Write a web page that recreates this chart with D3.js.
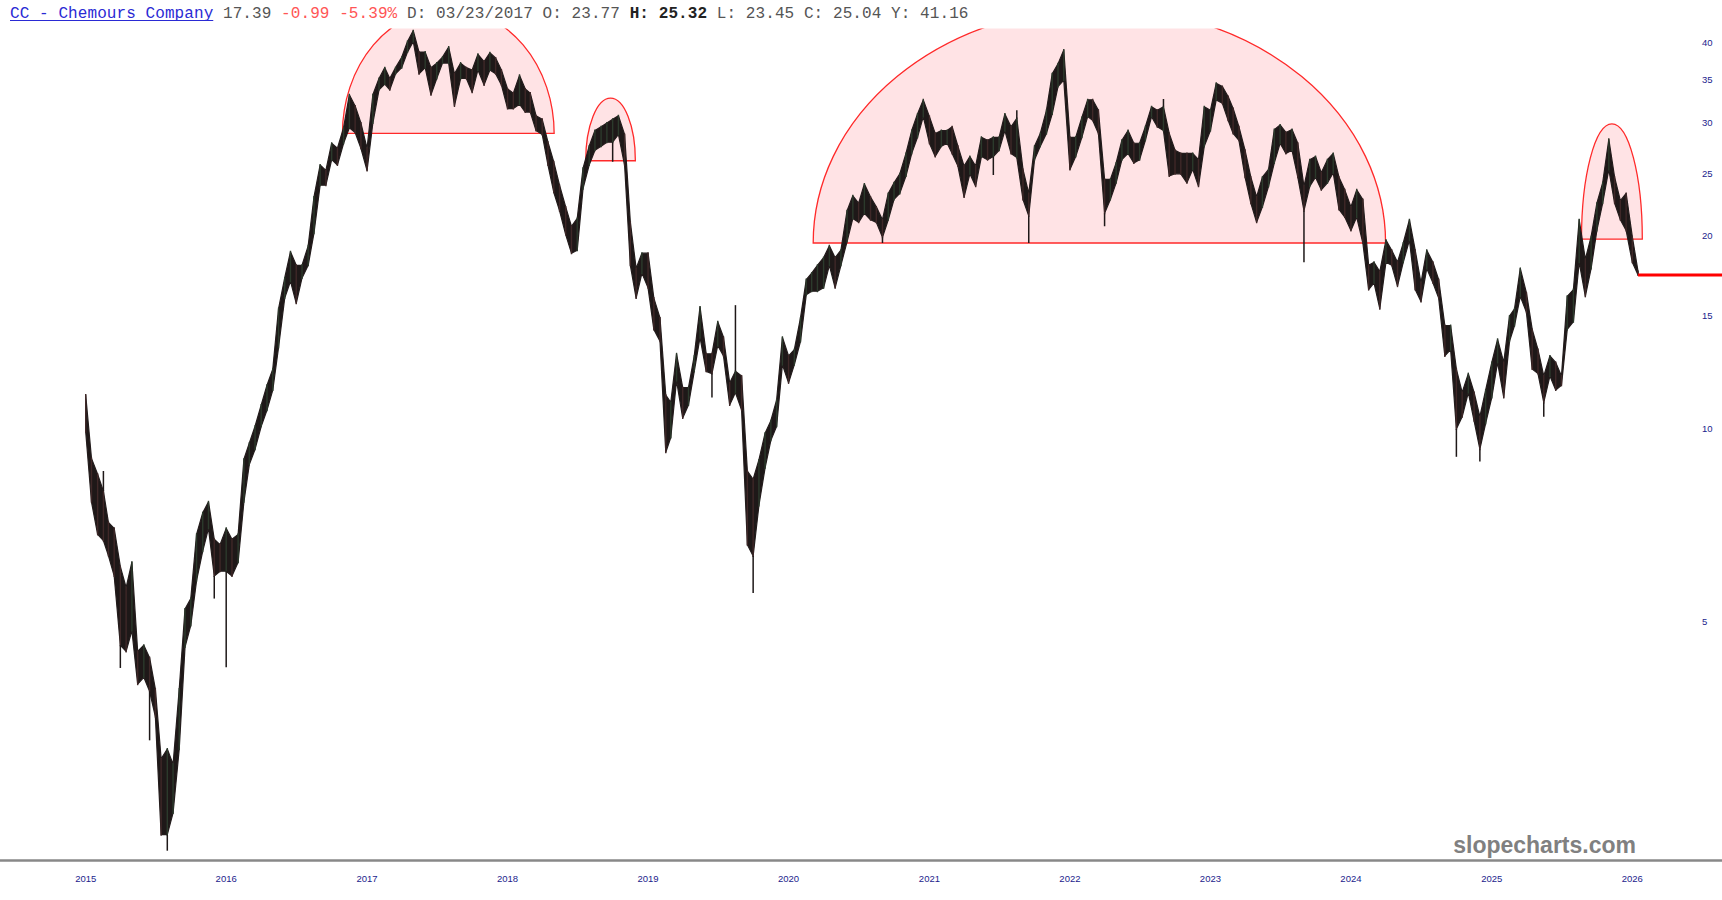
<!DOCTYPE html>
<html><head><meta charset="utf-8">
<script src="https://cdn.jsdelivr.net/npm/d3@7"></script>
<style>html,body{margin:0;padding:0;background:#fff;overflow:hidden}</style>
</head><body>
<svg id="chart" width="1722" height="900"></svg>
<script>
// ---- data ----
const startYear = 2015;            // first half-month period: Jan 1 2015
// half-month periods (1st and 16th of each month), low and high of each period
const lo = [9.9,7.7,6.85,6.7,6.35,5.9,4.6,4.5,4.85,4.0, 4.1,3.9,3.56,2.33,2.33,2.52,3.17,4.57,4.94,5.8,
 6.45,7.0,5.9,6.0,6.0,5.9,6.2,7.7,8.8,9.3, 10.1,10.7,11.5,13.4,16.0,17.0,15.7,17.2,18.0,20.2,
 24.0,24.0,26.3,25.8,27.9,29.5,29.0,27.4,25.3,30.0, 33.8,34.5,33.8,35.8,36.6,38.7,40.2,35.8,36.6,33.2,
 35.2,37.2,37.2,31.9,35.2,35.2,33.5,36.3,34.4,36.3, 35.8,34.4,31.6,31.6,32.1,31.2,31.2,29.2,28.8,25.8,
 23.4,21.9,20.1,18.8,19.0,23.7,25.8,27.2,27.6,28.0, 28.0,28.8,25.8,18.0,16.0,17.5,16.6,14.3,13.7,9.2,
 9.7,11.9,10.4,10.9,12.3,13.9,12.3,12.2,13.5,13.0, 10.9,11.4,10.7,6.6,6.34,7.6,8.7,9.6,10.1,12.6,
 11.8,12.6,13.7,16.2,16.4,16.4,16.6,18.0,16.6,18.0, 19.6,21.3,21.0,21.7,21.2,21.0,19.9,21.2,22.8,23.3,
 24.8,26.9,28.5,30.7,27.9,26.6,27.6,27.9,26.9,25.7, 23.0,25.0,23.9,26.6,26.3,26.6,27.2,29.2,26.9,26.5,
 22.8,21.5,26.3,27.6,28.9,31.0,34.2,35.0,25.4,26.6, 28.5,30.7,30.3,28.9,21.7,22.8,24.2,26.3,26.9,26.0,
 26.3,28.2,30.7,29.6,29.2,24.8,25.0,25.0,24.2,25.4, 23.9,27.6,29.2,32.6,32.2,30.3,28.9,28.2,24.7,22.5,
 21.0,22.2,23.9,26.0,27.9,26.9,27.2,24.7,21.9,23.9, 24.7,23.6,24.2,25.1,22.0,21.4,20.4,21.4,19.5,16.5,
 16.9,15.4,18.2,18.0,16.7,18.2,19.7,16.5,15.8,17.8, 16.9,16.0,13.0,13.3,10.0,10.45,11.4,10.3,9.3,10.2,
 11.2,12.7,11.2,13.7,14.5,16.1,15.2,12.4,12.2,11.0, 12.1,11.5,11.7,14.3,14.7,18.2,16.1,17.8,20.4,22.5,
 25.4,22.5,21.2,20.4,18.2,17.39];
const hi = [11.3,9.0,8.5,8.0,7.15,7.0,6.1,5.66,6.2,4.5, 4.6,4.4,3.93,3.06,3.17,3.0,3.93,5.24,5.44,6.85,
 7.4,7.7,6.73,6.6,7.0,6.73,6.85,8.97,9.5,10.1, 10.9,11.7,12.4,15.4,17.2,18.9,18.0,18.0,19.3,23.0,
 25.8,25.3,27.9,27.4,29.5,33.2,31.9,30.0,27.4,33.2, 35.2,36.6,35.2,36.6,38.0,40.2,41.8,38.7,38.7,36.6,
 37.2,38.0,39.4,35.8,37.2,36.6,36.3,38.4,37.4,38.6, 37.9,36.3,33.9,33.4,35.6,33.9,33.4,30.8,30.4,28.0,
 26.1,24.0,22.2,20.7,21.3,25.5,27.6,29.2,29.6,30.0, 30.4,30.8,28.8,21.0,17.8,18.8,18.8,16.0,14.9,11.3,
 11.0,13.1,11.6,11.6,13.0,15.5,13.1,13.1,14.7,13.9, 11.8,12.3,12.1,8.6,8.35,8.95,9.85,10.3,11.1,13.9,
 13.0,13.3,14.9,17.1,17.5,18.0,18.5,19.3,18.5,19.0, 21.9,23.1,22.5,24.1,23.0,22.2,21.2,23.3,24.2,25.0,
 26.9,29.2,31.0,32.6,30.7,28.9,29.2,29.2,29.6,27.6, 25.7,26.6,25.7,28.5,28.2,28.5,28.5,31.0,29.6,30.5,
 25.4,23.3,27.6,28.9,31.4,35.8,37.1,39.0,28.5,28.5, 30.6,32.6,32.6,31.4,24.5,24.5,26.0,28.2,29.2,27.9,
 27.9,29.6,31.8,31.4,31.8,28.9,27.2,26.9,26.9,26.9, 26.3,31.8,31.4,34.6,34.2,33.0,31.6,29.6,27.2,24.7,
 23.0,24.7,25.4,29.3,29.8,29.0,29.3,27.9,23.9,26.3, 26.6,25.1,26.3,26.9,24.7,23.6,22.2,23.6,22.8,18.0,
 18.2,17.6,19.7,19.0,18.2,19.5,21.2,19.0,16.9,19.0, 18.2,17.1,14.5,14.5,12.4,11.4,12.2,11.4,10.45,11.5,
 12.7,13.8,12.7,15.0,15.4,17.8,16.3,14.3,13.3,12.1, 13.0,12.7,12.1,16.1,16.5,21.2,18.4,19.95,22.5,24.2,
 28.3,24.7,22.7,23.3,19.95,17.6];
// isolated spikes: [period index, extreme price]
const wicks = [[3,8.6],[6,4.24],[11,3.27],[14,2.2],[22,5.44],[24,4.25],[90,26.1],[107,11.2],[111,15.6],
 [114,5.55],[136,19.5],[155,24.9],[159,31.4],[161,19.5],[174,20.7],[184,32.7],[208,18.2],[234,9.05],[238,8.9],[249,10.45]];
// drawn half-ellipse annotations
const arcStart = ["2016-10-29","2018-07-23","2020-03-05","2025-08-22"];
const arcEnd   = ["2018-05-02","2018-11-29","2024-03-31","2026-01-27"];
const arcBase  = [28.9, 26.2, 19.5, 19.77];
const arcTop   = [45.3, 32.8, 45.4, 29.9];
const lastPrice = 17.39;
const yTicks = [5,10,15,20,25,30,35,40];
const yearTicks = [2015,2016,2017,2018,2019,2020,2021,2022,2023,2024,2025,2026];
const headerParts = [
  {t:"CC - Chemours Company", c:"#2a2ad4", w:"normal"},
  {t:" 17.39", c:"#555", w:"normal"},
  {t:" -0.99 -5.39%", c:"#ff5555", w:"normal"},
  {t:" D: 03/23/2017 O: 23.77 ", c:"#555", w:"normal"},
  {t:"H: 25.32", c:"#222", w:"bold"},
  {t:" L: 23.45 C: 25.04 Y: 41.16", c:"#555", w:"normal"}
];

// ---- layout ----
const W = 1722, H = 900;
const svg = d3.select("#chart");
const parse = d3.timeParse("%Y-%m-%d");
const dates = lo.map((_, i) => new Date(startYear, Math.floor(i / 2), i % 2 ? 16 : 1));
const bars = lo.map((v, i) => ({d: dates[i], lo: v, hi: hi[i]}));

const x = d3.scaleTime().domain([new Date(2015,0,1), new Date(2026,0,1)]).range([85.7, 1632.3]);
const y = d3.scaleLog().domain([10, 40]).range([429, 42.9]);

svg.append("defs").append("clipPath").attr("id","plot")
  .append("rect").attr("x",0).attr("y",28.5).attr("width",W).attr("height",860-28.5);

const plot = svg.append("g").attr("clip-path","url(#plot)");

// annotations (pink half ellipses)
arcStart.forEach((s, i) => {
  const x0 = x(parse(s)), x1 = x(parse(arcEnd[i]));
  const yb = y(arcBase[i]), yt = y(arcTop[i]);
  const rx = (x1 - x0) / 2, ry = yb - yt;
  plot.append("path")
    .attr("d", `M${x0},${yb} A${rx},${ry} 0 0 1 ${x1},${yb} Z`)
    .attr("fill","#ffe3e5").attr("stroke","#ff2a2a").attr("stroke-width",1.3);
});

// price band
const area = d3.area().x(d => x(d.d)).y0(d => y(d.lo)).y1(d => y(d.hi)).curve(d3.curveLinear);
plot.append("path").datum(bars).attr("d", area)
  .attr("fill","#1e1818").attr("stroke","#231c1c").attr("stroke-width",1.2).attr("stroke-linejoin","round");

// per-period wick lines for texture
plot.append("g").selectAll("line").data(bars).join("line")
  .attr("x1", d => x(d.d)).attr("x2", d => x(d.d))
  .attr("y1", d => y(d.lo) + 1).attr("y2", d => y(d.hi) - 1)
  .attr("stroke", (d, i) => i > 0 && d.hi + d.lo >= bars[i-1].hi + bars[i-1].lo ? "#2c3a2c" : "#3f2828")
  .attr("stroke-width", 1.4);

// spikes
plot.append("g").selectAll("line.spike").data(wicks).join("line")
  .attr("x1", d => x(dates[d[0]])).attr("x2", d => x(dates[d[0]]))
  .attr("y1", d => d[1] < lo[d[0]] ? y(lo[d[0]]) : y(hi[d[0]]))
  .attr("y2", d => y(d[1]))
  .attr("stroke","#1e1818").attr("stroke-width",1.5);

// last price level
plot.append("line")
  .attr("x1", x(dates[dates.length-1])).attr("x2", W)
  .attr("y1", y(lastPrice)).attr("y2", y(lastPrice))
  .attr("stroke","#ff0000").attr("stroke-width",3);

// right axis labels
svg.append("g").selectAll("text").data(yTicks).join("text")
  .attr("x", 1702).attr("y", d => y(d) + 3.3)
  .attr("font-family","Liberation Sans, Arial, sans-serif").attr("font-size","9.5px")
  .attr("fill","#1c1c8c").text(d => d);

// bottom axis line and year labels
svg.append("line").attr("x1",0).attr("x2",W).attr("y1",860.5).attr("y2",860.5)
  .attr("stroke","#888").attr("stroke-width",2.5);
svg.append("g").selectAll("text").data(yearTicks).join("text")
  .attr("x", d => x(new Date(d,0,1))).attr("y", 882)
  .attr("text-anchor","middle")
  .attr("font-family","Liberation Sans, Arial, sans-serif").attr("font-size","9.5px")
  .attr("fill","#1c1c8c").text(d => d);

// watermark
svg.append("text").attr("x",1636).attr("y",853).attr("text-anchor","end")
  .attr("font-family","Liberation Sans, Arial, sans-serif").attr("font-weight","bold")
  .attr("font-size","23px").attr("fill","#808080").text("slopecharts.com");

// header
const hdr = svg.append("text").attr("x",10).attr("y",18)
  .attr("font-family","Liberation Mono, Courier New, monospace").attr("font-size","16px")
  .attr("letter-spacing","0.08px")
  .attr("xml:space","preserve").style("white-space","pre");
headerParts.forEach(p => {
  hdr.append("tspan").attr("fill",p.c).attr("font-weight",p.w).text(p.t);
});
const firstLen = headerParts[0].t.length * 9.68;
svg.append("line").attr("x1",10).attr("x2",10 + firstLen).attr("y1",20.5).attr("y2",20.5)
  .attr("stroke","#2a2ad4").attr("stroke-width",1);
</script>
</body></html>
